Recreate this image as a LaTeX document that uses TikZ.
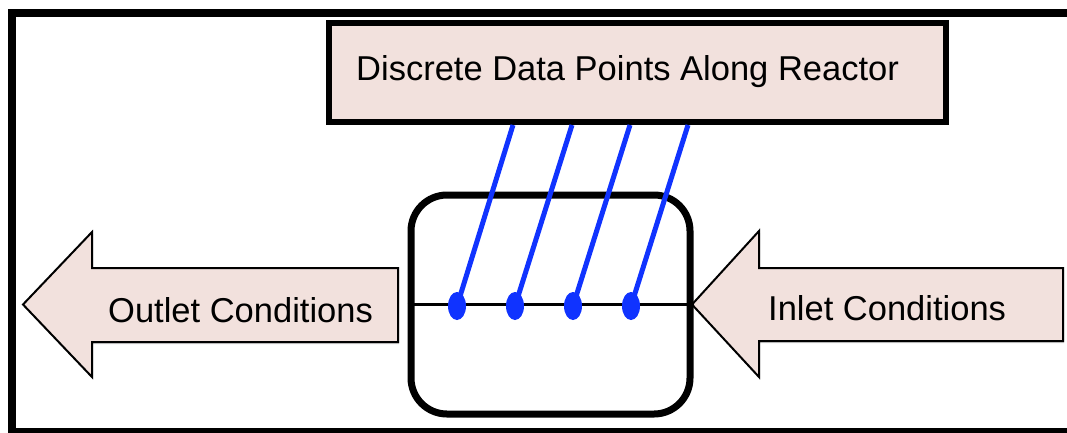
\documentclass[tikz,border=0pt]{standalone}
\usepackage{fontspec}
\setmainfont{Liberation Sans}
\usetikzlibrary{shapes.geometric,shadows}
\definecolor{boxpink}{RGB}{242,225,221}
\definecolor{probeblue}{RGB}{16,51,255}
\tikzset{
  frame/.style={line width=8pt,draw=black},
  databox/.style={draw=black,line width=6pt,fill=boxpink,inner sep=0pt,
    minimum width=617pt,minimum height=99pt,
    drop shadow={opacity=0.35,shadow xshift=1pt,shadow yshift=-2pt}},
  reactorbox/.style={draw=black,line width=7pt,fill=white,rounded corners=36pt,inner sep=0pt,
    minimum width=279pt,minimum height=219pt},
  flowarrow/.style={draw=black,line width=2pt,fill=boxpink,
    drop shadow={opacity=0.35,shadow xshift=1pt,shadow yshift=-2pt}},
  probe/.style={ellipse,fill=probeblue,inner sep=0pt,minimum width=18pt,minimum height=28pt},
  probeline/.style={draw=probeblue,line width=5pt},
  midline/.style={draw=black,line width=3pt},
  lbl/.style={anchor=base west,inner sep=0pt,font=\fontsize{34.5}{40}\selectfont}
}
\begin{document}
\begin{tikzpicture}[x=1pt,y=-1pt]
\useasboundingbox (0,0) rectangle (1067,432);
\clip (0,0) rectangle (1067,432);
\fill[white] (0,0) rectangle (1067,432);
% frame
\draw[frame] (1090,13) -- (12,13) -- (12,432) -- (1090,432);
% arrows
\path[flowarrow] (23,304.5) -- (92,232) -- (92,268) -- (398,268) -- (398,342) -- (92,342) -- (92,377) -- cycle;
\node[lbl] (outlet) at (108,322) {Outlet Conditions};
\path[flowarrow] (692,304.5) -- (759,231) -- (759,268) -- (1063,268) -- (1063,341) -- (759,341) -- (759,377) -- cycle;
\node[lbl] (inlet) at (768,320) {Inlet Conditions};
% data box
\node[databox] (data) at (637.5,72.5) {};
\node[lbl] (datatext) at (356,80) {Discrete Data Points Along Reactor};
% reactor
\node[reactorbox] (reactor) at (550.5,304.5) {};
\draw[midline] (reactor.west) -- (reactor.east);
% probes
\coordinate (t1) at (513,125);
\coordinate (t2) at (572,125);
\coordinate (t3) at (630,125);
\coordinate (t4) at (688,125);
\node[probe] (p1) at (457,306) {};
\node[probe] (p2) at (515,306) {};
\node[probe] (p3) at (573,306) {};
\node[probe] (p4) at (631,306) {};
\draw[probeline] (p1.center) -- (t1);
\draw[probeline] (p2.center) -- (t2);
\draw[probeline] (p3.center) -- (t3);
\draw[probeline] (p4.center) -- (t4);
\end{tikzpicture}
\end{document}
